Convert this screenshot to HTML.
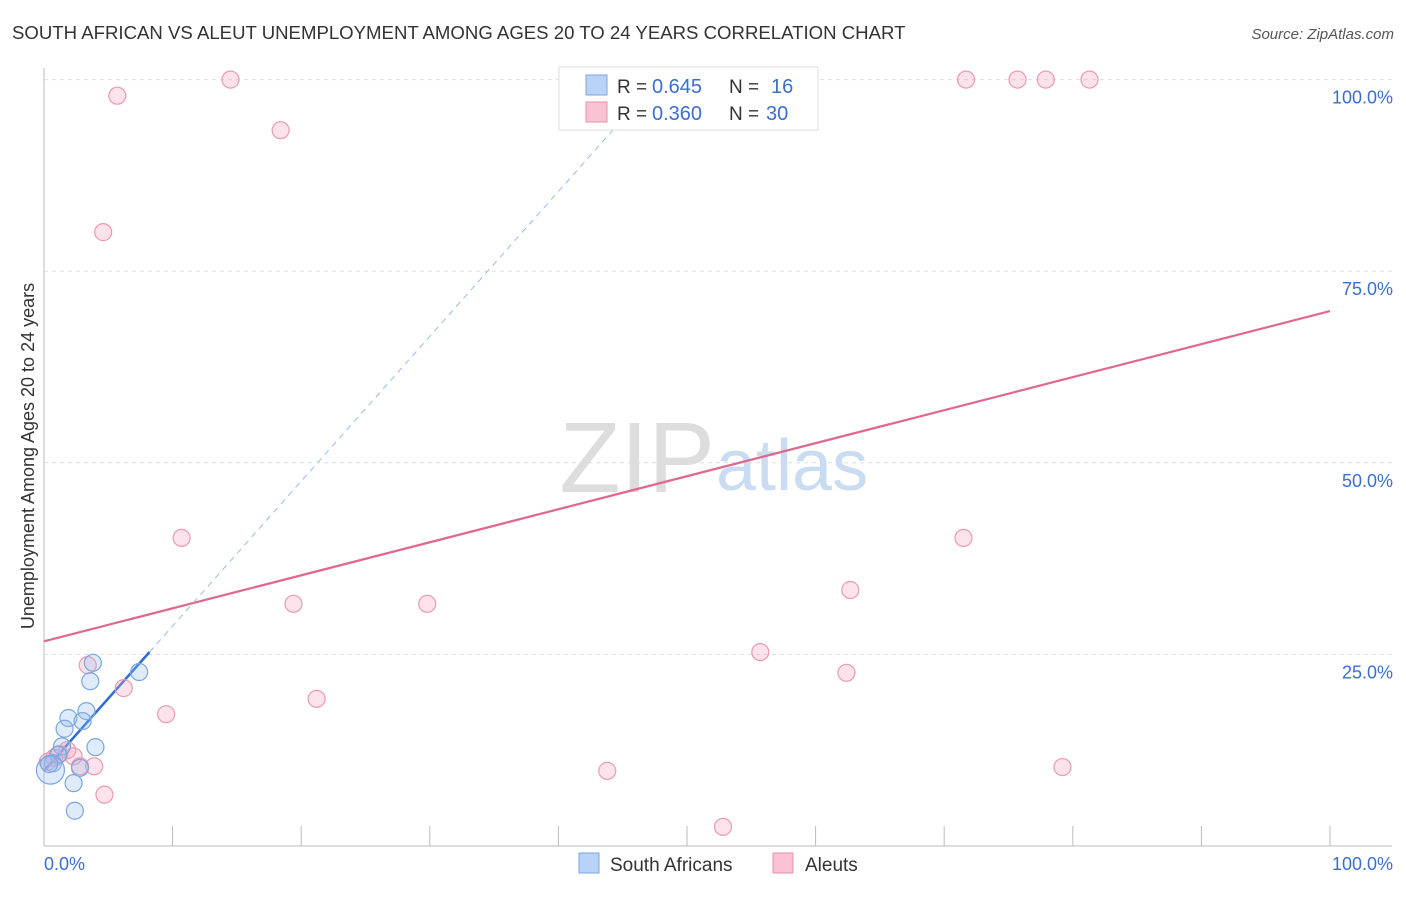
<!DOCTYPE html>
<html><head><meta charset="utf-8"><style>
body{margin:0;background:#fff;font-family:"Liberation Sans",sans-serif;}
svg text{font-family:"Liberation Sans",sans-serif;}
</style></head><body>
<svg id="chart" width="1406" height="892" viewBox="0 0 1406 892" xmlns="http://www.w3.org/2000/svg">
<text x="12" y="39" font-size="18.6" fill="#333">SOUTH AFRICAN VS ALEUT UNEMPLOYMENT AMONG AGES 20 TO 24 YEARS CORRELATION CHART</text>
<text x="1394" y="39" font-size="15" fill="#555" font-style="italic" text-anchor="end">Source: ZipAtlas.com</text>
<text x="0" y="0" font-size="18" fill="#333" transform="translate(34,456) rotate(-90)" text-anchor="middle">Unemployment Among Ages 20 to 24 years</text>
<g id="grid"></g>
<text x="715" y="492" font-size="100" fill="#ddd" text-anchor="end" font-family="Liberation Serif">ZIP</text>
<text x="716" y="490" font-size="72" fill="#c9dcf2">atlas</text>
<g id="lines"></g>
<g id="points"></g>
<g>
<rect x="559" y="67" width="259" height="63" fill="#fff" stroke="#ddd"/>
<rect x="586" y="75" width="21" height="20" fill="#b8d3f5" stroke="#7aa7e0"/>
<rect x="586" y="102" width="21" height="20" fill="#f9c3d3" stroke="#e890aa"/>
<text x="617" y="93" font-size="19" fill="#333">R =</text>
<text x="652" y="93" font-size="20" fill="#3a6fcf">0.645</text>
<text x="729" y="93" font-size="19" fill="#333">N =</text>
<text x="771" y="93" font-size="20" fill="#3a6fcf">16</text>
<text x="617" y="120" font-size="19" fill="#333">R =</text>
<text x="652" y="120" font-size="20" fill="#3a6fcf">0.360</text>
<text x="729" y="120" font-size="19" fill="#333">N =</text>
<text x="766" y="120" font-size="20" fill="#3a6fcf">30</text>
</g>
<g>
<rect x="579" y="853" width="20" height="20" fill="#b8d3f5" stroke="#7aa7e0"/>
<text x="610" y="871" font-size="19" fill="#333">South Africans</text>
<rect x="773" y="853" width="20" height="20" fill="#f9c3d3" stroke="#e890aa"/>
<text x="805" y="871" font-size="19" fill="#333">Aleuts</text>
</g>
</svg>
<script>
const yTicks=[25,50,75,100];
const yTickLabels=["25.0%","50.0%","75.0%","100.0%"];
const xTicks=[0,10,20,30,40,50,60,70,80,90,100];
const blueX=[3.8,3.6,7.4,3.3,1.9,1.6,3.0,4.0,1.4,1.1,0.7,0.5,2.8,2.3,2.4,0.4];
const blueY=[23.9,21.5,22.7,17.6,16.7,15.3,16.3,12.9,13.0,11.9,10.8,9.9,10.2,8.2,4.6,10.7];
const pinkX=[5.7,14.5,18.4,4.6,10.7,19.4,29.8,21.2,9.5,6.2,3.4,1.2,2.3,2.8,3.9,4.7,0.8,43.8,52.8,55.7,62.4,62.7,71.5,79.2,71.7,75.7,77.9,81.3,1.8,0.3];
const pinkY=[97.9,100,93.4,80.1,40.2,31.6,31.6,19.2,17.2,20.6,23.6,12.0,11.7,10.4,10.4,6.7,11.5,9.8,2.5,25.3,22.6,33.4,40.2,10.3,100,100,100,100,12.5,11.0];
const blueFit=[9.8,1.89];
const pinkFit=[26.7,0.431];
const X=v=>44+v*12.86, Y=v=>846-v*7.664;
const NS="http://www.w3.org/2000/svg";
function mk(tag,attrs,parent){const e=document.createElementNS(NS,tag);for(const k in attrs)e.setAttribute(k,attrs[k]);parent.appendChild(e);return e;}
const grid=document.getElementById('grid');
mk('line',{x1:44,y1:68,x2:44,y2:846,stroke:'#bbb'},grid);
mk('line',{x1:44,y1:846,x2:1392,y2:846,stroke:'#bbb'},grid);
yTicks.forEach((t,i)=>{
 const l=mk('line',{x1:44,y1:Y(t),x2:1392,y2:Y(t),stroke:'#ddd','stroke-dasharray':'4,4'},grid);
 
 
 const tx=mk('text',{x:1393,y:Y(t)+24,'font-size':18,fill:'#3a6fcf','text-anchor':'end'},grid);
 tx.textContent=yTickLabels[i];
 
 
});
xTicks.forEach(t=>{
 const l=mk('line',{x1:X(t),y1:826,x2:X(t),y2:846,stroke:'#bbb'},grid);
 
 
});
const x0=mk('text',{x:44,y:870,'font-size':18,fill:'#3a6fcf'},grid);x0.textContent='0.0%';


const x1=mk('text',{x:1393,y:870,'font-size':18,fill:'#3a6fcf','text-anchor':'end'},grid);x1.textContent='100.0%';


const lines=document.getElementById('lines');
const pl=mk('line',{x1:X(0),y1:Y(pinkFit[0]),x2:X(100),y2:Y(pinkFit[0]+100*pinkFit[1]),stroke:'#e0688f','stroke-width':2.2},lines);


const xe=(100-blueFit[0])/blueFit[1];
const bd=mk('line',{x1:X(8.2),y1:Y(blueFit[0]+8.2*blueFit[1]),x2:X(xe),y2:Y(100),stroke:'#9bbbe0','stroke-width':1,'stroke-dasharray':'6,5'},lines);


const bl=mk('line',{x1:X(0),y1:Y(blueFit[0]),x2:X(8.2),y2:Y(blueFit[0]+8.2*blueFit[1]),stroke:'#2a6dd6','stroke-width':2.5},lines);


const pts=document.getElementById('points');
pinkX.forEach((v,i)=>{
 const c=mk('circle',{cx:X(v),cy:Y(pinkY[i]),r:8.5,fill:'rgba(244,160,185,0.3)',stroke:'#eb9ab2','stroke-width':1.2},pts);
 
 
});
blueX.forEach((v,i)=>{
 const c=mk('circle',{cx:X(v),cy:Y(blueY[i]),r:i==11?14:8.5,fill:'rgba(150,190,240,0.3)',stroke:'#7aa7e0','stroke-width':1.2},pts);
 
 
});
</script>
</body></html>
